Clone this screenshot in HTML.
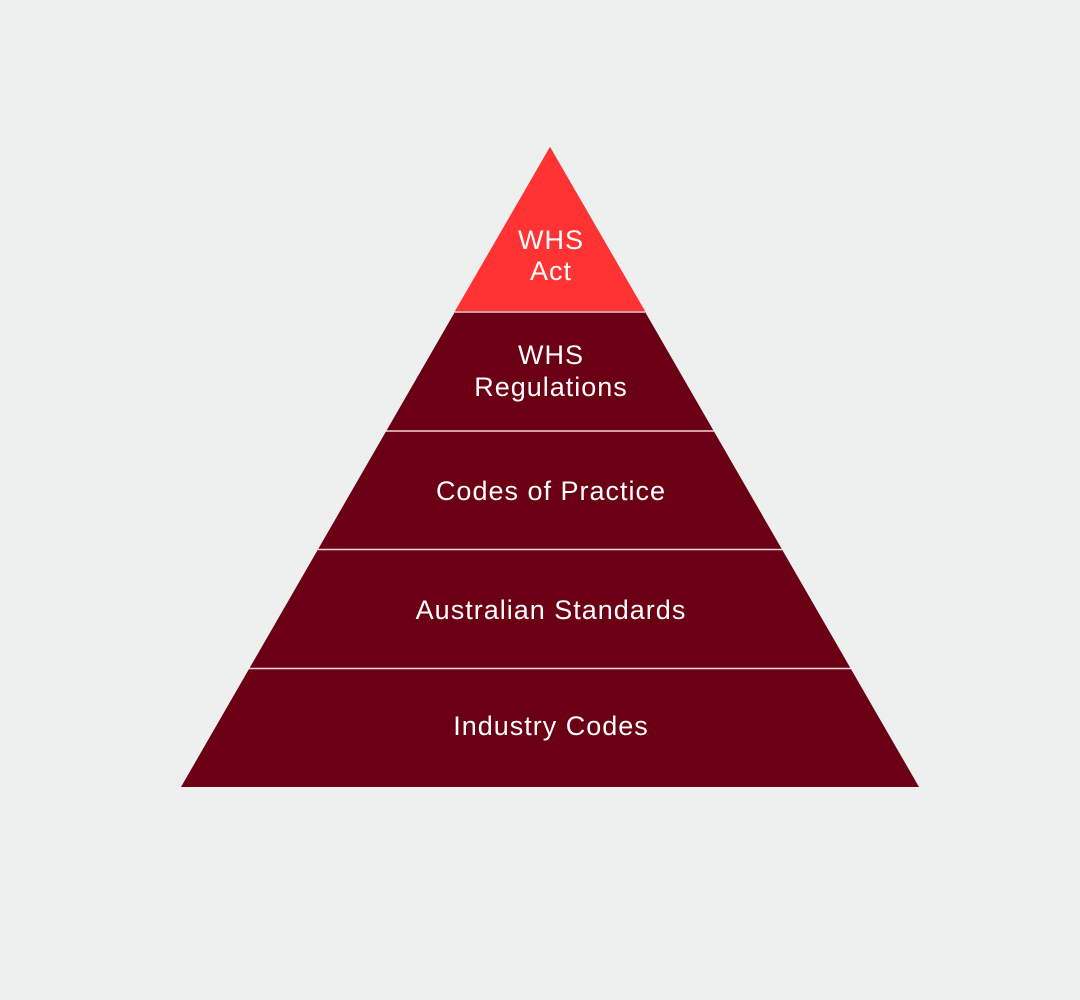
<!DOCTYPE html>
<html><head><style>
html,body{margin:0;padding:0;background:#eef0ef;}
svg{display:block}
text{font-family:"Liberation Sans",sans-serif;font-size:27px;letter-spacing:1px;fill:#fff;text-anchor:middle;}
</style></head><body>
<svg width="1080" height="1000" viewBox="0 0 1080 1000">
<rect width="1080" height="1000" fill="#eef0ef"/>
<polygon points="550,147 919,787 181,787" fill="#6b0014"/>
<polygon points="550,147 645,311 455,311" fill="#ff3333"/>
<g stroke="#f3d6d6" stroke-width="1.5">
<line x1="455" y1="312" x2="645" y2="312"/>
<line x1="386" y1="431" x2="714" y2="431"/>
<line x1="318" y1="549.5" x2="782" y2="549.5"/>
<line x1="249" y1="668.5" x2="851" y2="668.5"/>
</g>
<text x="551" y="249">WHS</text>
<text x="551" y="280">Act</text>
<text x="551" y="364">WHS</text>
<text x="551" y="396">Regulations</text>
<text x="551" y="500">Codes of Practice</text>
<text x="551" y="619">Australian Standards</text>
<text x="551" y="735">Industry Codes</text>
</svg>
</body></html>
